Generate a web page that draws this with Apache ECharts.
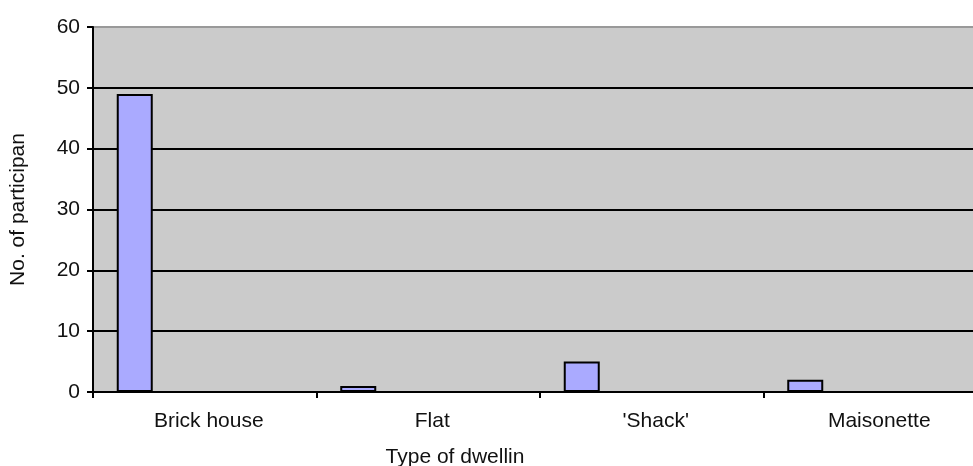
<!DOCTYPE html>
<html>
<head>
<meta charset="utf-8">
<script src="https://cdn.jsdelivr.net/npm/echarts@6/dist/echarts.min.js"></script>
<style>
  html, body { margin: 0; padding: 0; background: #fff; }
  #chart { width: 973px; height: 466px; }
</style>
</head>
<body>
<div id="chart"></div>
<script>
// 数据
var dwellings = ['Brick house', 'Flat', "'Shack'", 'Maisonette'];
var participants = [49, 1, 5, 2];
// empty series that only keeps the space of the other (empty) columns of the cluster
var emptySlots = ['-', '-', '-', '-'];
var yTicks = { min: 0, max: 60, interval: 10 };

var chart = echarts.init(document.getElementById('chart'));

var option = {
    animation: false,
    textStyle: { fontFamily: 'Liberation Sans, Arial, sans-serif' },
    grid: {
        left: 93,
        top: 27,
        width: 894,
        bottom: 74,
        outerBoundsMode: 'none',
        show: true,
        backgroundColor: '#cbcbcb',
        borderColor: '#999999',
        borderWidth: 2
    },
    xAxis: {
        type: 'category',
        data: dwellings,
        name: 'Type of dwellin',
        nameLocation: 'middle',
        nameGap: 55,
        // the title sits left of the plot centre (plot is cut at the right)
        nameTextStyle: { color: '#111', fontSize: 21, padding: [0, 170, 0, 0] },
        axisLine: { lineStyle: { color: '#000', width: 2 } },
        axisTick: { show: true, length: 6, lineStyle: { color: '#000', width: 2 } },
        axisLabel: { color: '#111', fontSize: 21, margin: 19, padding: [0, 0, 0, 8] }
    },
    yAxis: {
        type: 'value',
        min: yTicks.min,
        max: yTicks.max,
        interval: yTicks.interval,
        name: 'No. of participan',
        nameLocation: 'middle',
        nameGap: 64,
        nameTextStyle: { color: '#111', fontSize: 21 },
        axisLine: { show: true, lineStyle: { color: '#000', width: 2 } },
        axisTick: { show: true, length: 6, lineStyle: { color: '#000', width: 2 } },
        axisLabel: { color: '#111', fontSize: 21, margin: 13 },
        splitLine: {
            show: true,
            lineStyle: {
                // last line (at 60) is the grey plot border
                color: ['#000', '#000', '#000', '#000', '#000', '#000', '#999'],
                width: 2
            }
        }
    },
    series: [
        {
            name: 'participants',
            type: 'bar',
            data: participants,
            barWidth: 36,
            barGap: '0%',
            itemStyle: { color: '#aaaaff', borderColor: '#000', borderWidth: 2 }
        },
        {
            name: 'spacer',
            type: 'bar',
            data: emptySlots,
            barWidth: 140,
            silent: true
        }
    ]
};

chart.setOption(option);
</script>
</body>
</html>
